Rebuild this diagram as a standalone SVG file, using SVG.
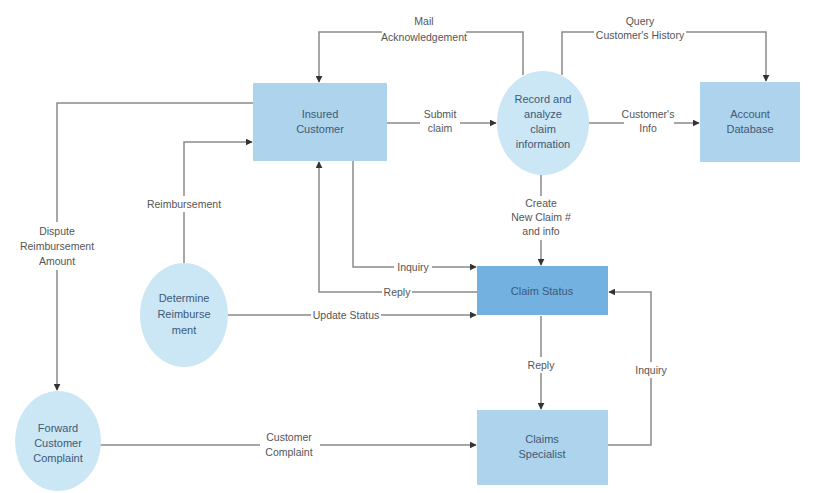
<svg xmlns="http://www.w3.org/2000/svg" width="821" height="493" viewBox="0 0 821 493">
<defs>
<marker id="arr" viewBox="0 0 10 10" refX="9" refY="5" markerWidth="7" markerHeight="7" orient="auto" markerUnits="userSpaceOnUse">
<path d="M0,0 L10,5 L0,10 z" fill="#333"/>
</marker>
<style>
.box{fill:#aed3ec;}
.dark{fill:#72b1e0;}
.circ{fill:#cbe6f4;}
.nt{font-family:"Liberation Sans",Arial,sans-serif;font-size:11px;fill:#3d5a78;text-anchor:middle;}
.lt{font-family:"Liberation Sans",Arial,sans-serif;font-size:10.5px;fill:#555;text-anchor:middle;}
.ln{fill:none;stroke:#8a8a8a;stroke-width:1.5;}
.lb{fill:#fff;}
</style>
</defs>
<rect width="821" height="493" fill="#fff"/>
<g id="connectors">
<path class="ln" d="M523,75 V32 H319 V82" marker-end="url(#arr)"/>
<path class="ln" d="M562,75 V32 H766 V81" marker-end="url(#arr)"/>
<path class="ln" d="M387,123 H496" marker-end="url(#arr)"/>
<path class="ln" d="M588,123 H699" marker-end="url(#arr)"/>
<path class="ln" d="M541,175 V265" marker-end="url(#arr)"/>
<path class="ln" d="M353,161 V267 H476" marker-end="url(#arr)"/>
<path class="ln" d="M477,292 H319 V162" marker-end="url(#arr)"/>
<path class="ln" d="M228,315 H476" marker-end="url(#arr)"/>
<path class="ln" d="M184,263 V142 H252" marker-end="url(#arr)"/>
<path class="ln" d="M253,103 H57 V390" marker-end="url(#arr)"/>
<path class="ln" d="M100,445 H476" marker-end="url(#arr)"/>
<path class="ln" d="M541,316 V409" marker-end="url(#arr)"/>
<path class="ln" d="M608,445 H651 V292 H609" marker-end="url(#arr)"/>
<g id="labels">
<rect class="lb" x="382" y="13" width="84" height="32"/>
<text class="lt" x="424" y="25">Mail</text>
<text class="lt" x="424" y="41">Acknowledgement</text>
<rect class="lb" x="594" y="13" width="92" height="32"/>
<text class="lt" x="640" y="25">Query</text>
<text class="lt" x="640" y="39">Customer's History</text>
<rect class="lb" x="420" y="107" width="40" height="30"/>
<text class="lt" x="440" y="118">Submit</text>
<text class="lt" x="440" y="132">claim</text>
<rect class="lb" x="624" y="107" width="50" height="30"/>
<text class="lt" x="648" y="118">Customer's</text>
<text class="lt" x="648" y="132">Info</text>
<rect class="lb" x="505" y="196" width="72" height="44"/>
<text class="lt" x="541" y="207">Create</text>
<text class="lt" x="541" y="221">New Claim #</text>
<text class="lt" x="541" y="235">and info</text>
<rect class="lb" x="394" y="260" width="38" height="14"/>
<text class="lt" x="413" y="271">Inquiry</text>
<rect class="lb" x="382" y="285" width="30" height="14"/>
<text class="lt" x="397" y="296">Reply</text>
<rect class="lb" x="311" y="308" width="70" height="14"/>
<text class="lt" x="346" y="319">Update Status</text>
<rect class="lb" x="141" y="196" width="86" height="16"/>
<text class="lt" x="184" y="208">Reimbursement</text>
<rect class="lb" x="14" y="222" width="86" height="48"/>
<text class="lt" x="57" y="235">Dispute</text>
<text class="lt" x="57" y="250">Reimbursement</text>
<text class="lt" x="57" y="265">Amount</text>
<rect class="lb" x="260" y="430" width="60" height="30"/>
<text class="lt" x="289" y="441">Customer</text>
<text class="lt" x="289" y="456">Complaint</text>
<rect class="lb" x="524" y="357" width="34" height="16"/>
<text class="lt" x="541" y="369">Reply</text>
<rect class="lb" x="632" y="362" width="38" height="16"/>
<text class="lt" x="651" y="374">Inquiry</text>
</g>
</g>
<g id="insured-customer">
<rect class="box" x="253" y="83" width="134" height="78"/>
<text class="nt" x="320" y="118">Insured</text>
<text class="nt" x="320" y="133">Customer</text>
</g>
<g id="record-analyze">
<ellipse class="circ" cx="543" cy="123" rx="46" ry="52"/>
<text class="nt" x="543" y="103">Record and</text>
<text class="nt" x="543" y="118">analyze</text>
<text class="nt" x="543" y="133">claim</text>
<text class="nt" x="543" y="148">information</text>
</g>
<g id="account-database">
<rect class="box" x="700" y="82" width="100" height="80"/>
<text class="nt" x="750" y="118">Account</text>
<text class="nt" x="750" y="133">Database</text>
</g>
<g id="claim-status">
<rect class="dark" x="477" y="266" width="131" height="49"/>
<text class="nt" x="542" y="295">Claim Status</text>
</g>
<g id="determine-reimbursement">
<ellipse class="circ" cx="184" cy="315" rx="44" ry="52"/>
<text class="nt" x="184" y="302">Determine</text>
<text class="nt" x="184" y="318">Reimburse</text>
<text class="nt" x="184" y="334">ment</text>
</g>
<g id="forward-complaint">
<ellipse class="circ" cx="58" cy="441" rx="43" ry="50"/>
<text class="nt" x="58" y="432">Forward</text>
<text class="nt" x="58" y="447">Customer</text>
<text class="nt" x="58" y="462">Complaint</text>
</g>
<g id="claims-specialist">
<rect class="box" x="477" y="410" width="131" height="75"/>
<text class="nt" x="542" y="443">Claims</text>
<text class="nt" x="542" y="458">Specialist</text>
</g>
</svg>
